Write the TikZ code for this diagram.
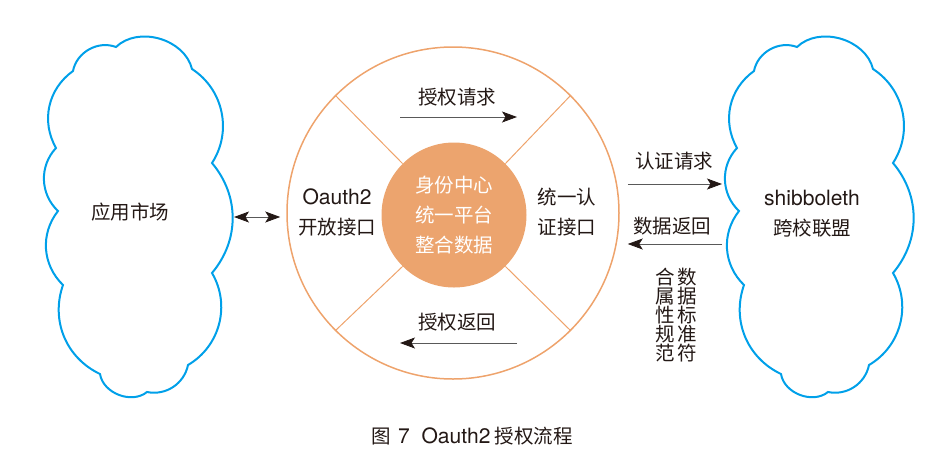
\documentclass[tikz,border=0pt]{standalone}
\usepackage{fontspec}
\setmainfont{Noto Sans CJK SC}
\newfontfamily\lat[Scale=1.08]{TeX Gyre Heros}
\usetikzlibrary{arrows.meta,positioning}

\definecolor{cloudblue}{RGB}{0,160,233}
\definecolor{ringorange}{RGB}{238,163,108}
\definecolor{corefill}{RGB}{236,164,110}
\definecolor{ink}{RGB}{35,24,21}

\tikzset{
  label/.style={text=ink, align=center, inner sep=0pt, font=\fontsize{19.5}{30}\selectfont},
  vlabel/.style={label, font=\fontsize{19.5}{19}\selectfont},
  cloudline/.style={draw=cloudblue, line width=2pt, line join=miter},
  tip/.style={Stealth[length=15pt,width=11pt,inset=3.5pt,color=ink]},
  flow/.style={draw=gray!70!black, line width=0.8pt, -{Stealth[length=15pt,width=11pt,inset=3.5pt,color=ink]}},
  both/.style={draw=gray!70!black, line width=0.8pt, {Stealth[length=15pt,width=11pt,inset=3.5pt,color=ink]}-{Stealth[length=15pt,width=11pt,inset=3.5pt,color=ink]}}
}

\begin{document}
\begin{tikzpicture}[x=1pt,y=1pt]
        \useasboundingbox (0,0) rectangle (935,-459);

        % the two clouds
        \foreach \dx in {0,681} {
          \draw[cloudline, shift={(\dx,0)}]
            (73,-71) to[bend left=50] (116,-47) to[bend left=60] (192,-69)
            to[bend left=45] (212,-163) to[bend left=40] (212,-273)
            to[bend left=45] (188,-365) to[bend left=45] (147,-392)
            to[bend left=60] (100,-374) to[bend left=42] (63,-285)
            to[bend left=42] (58,-211) to[bend left=45] (56,-148)
            to[bend left=42] cycle;
        }
        \node[label] (app) at (130,-212) {应用市场};
        \node[label] (fed) at (812,-214) {{\lat shibboleth}\\跨校联盟};

        % the wheel
        \node[circle, draw=ringorange, line width=1.5pt, minimum size=332pt, inner sep=0pt] (ring) at (453,-213) {};
        \node[circle, fill=corefill, minimum size=145pt, inner sep=0pt, label, text=white] (core) at (454,-215) {身份中心\\统一平台\\整合数据};
        \foreach \a in {45,135,225,315}
          \draw[ringorange, line width=1pt] (core.\a) -- (ring.\a);

        \node[label] (oauth) at (337,-212) {{\lat Oauth2}\\开放接口};
        \node[label] (auth) at (567,-212) {统一认\\证接口};
        \node[label] (req) at (457,-97) {授权请求};
        \node[label] (ret) at (457,-322) {授权返回};

        \coordinate (req-a) at (400,-117);
        \coordinate (req-b) at (517,-117);
        \coordinate (ret-a) at (517,-343);
        \coordinate (ret-b) at (400,-343);
        \draw[flow] (req-a) -- (req-b);
        \draw[flow] (ret-a) -- (ret-b);

        % links to the clouds
        \coordinate (app-e) at (234,-217);
        \coordinate (fed-w1) at (722,-184);
        \coordinate (fed-w2) at (722,-244);
        \draw[both, shorten >=6pt] (app-e) -- (app-e -| ring.west);
        \draw[flow, shorten <=8pt] (fed-w1 -| ring.east) -- (fed-w1);
        \draw[flow, shorten >=8pt] (fed-w2) -- (fed-w2 -| ring.east);
        \node[label] (login) at (674,-161) {认证请求};
        \node[label] (data) at (672,-226) {数据返回};
        \node[vlabel] (std1) at (687,-315) {数\\据\\标\\准\\符};
        \node[vlabel] (std2) at (665,-315) {合\\属\\性\\规\\范};

        \node[label] (caption) at (472,-436) {图\, {\lat 7\ \ Oauth2} 授权流程};
      \end{tikzpicture}
\end{document}
